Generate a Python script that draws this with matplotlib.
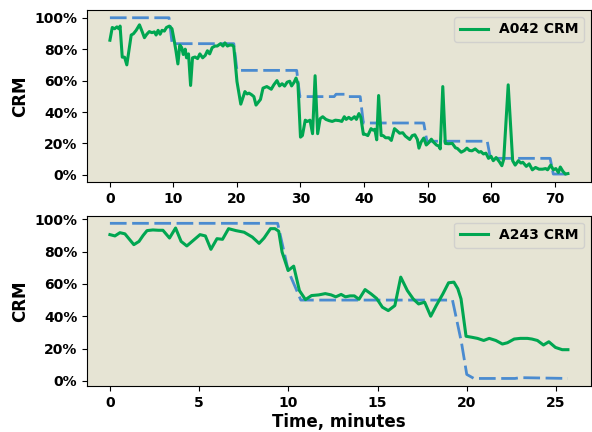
import matplotlib
matplotlib.use('Agg')
import matplotlib.pyplot as plt
from matplotlib.ticker import PercentFormatter

# A042 - top panel
a042_t = [0.0, 0.37, 0.74, 1.1, 1.4, 1.6, 1.94, 2.3, 2.66, 2.98, 3.35, 3.7, 4.13, 4.65, 5.07, 5.43, 5.8, 6.2,
          6.6, 7.0, 7.27, 7.58, 7.9, 8.2, 8.57, 8.9, 9.35, 9.77, 10.13, 10.4, 10.7, 11.0, 11.3, 11.55, 11.85,
          12.06, 12.37, 12.7, 13.0, 13.4, 13.8, 14.16, 14.6, 15.0, 15.35, 15.7, 16.1, 16.55, 16.9, 17.4, 17.8,
          18.1, 18.5, 18.85, 19.26, 19.5, 20.0, 20.6, 21.25, 21.6, 21.9, 22.3, 22.66, 23.0, 23.7, 24.1, 24.7,
          25.4, 25.8, 26.3, 26.7, 27.1, 27.5, 27.9, 28.3, 28.6, 29.0, 29.3, 29.6, 30.0, 30.3, 30.75, 31.1,
          31.5, 31.9, 32.3, 32.7, 33.1, 33.5, 34.0, 34.5, 35.0, 35.5, 36.1, 36.5, 36.9, 37.2, 37.6, 38.0,
          38.5, 38.8, 39.2, 39.5, 39.9, 40.2, 40.6, 41.1, 41.4, 41.7, 42.0, 42.3, 42.7, 43.0, 43.4, 43.9,
          44.3, 44.8, 45.2, 45.6, 46.1, 46.5, 47.2, 47.6, 48.0, 48.4, 48.65, 49.0, 49.4, 49.8, 50.2, 50.6,
          50.9, 51.4, 51.8, 52.0, 52.4, 52.8, 53.3, 53.9, 54.4, 54.7, 55.3, 55.8, 56.2, 56.6, 57.0, 57.5,
          58.1, 58.4, 58.8, 59.2, 59.6, 60.0, 60.35, 60.8, 61.3, 61.7, 62.0, 62.7, 63.4, 63.8, 64.3, 64.7,
          65.0, 65.55, 66.0, 66.5, 67.0, 67.55, 68.1, 68.6, 68.9, 69.4, 69.8, 70.2, 70.6, 70.9, 71.3, 71.7,
          72.1]
a042_crm = [0.857, 0.938, 0.93, 0.942, 0.93, 0.947, 0.749, 0.749, 0.70, 0.788, 0.89, 0.898, 0.92, 0.955,
            0.912, 0.873, 0.895, 0.912, 0.905, 0.91, 0.89, 0.92, 0.895, 0.92, 0.915, 0.938, 0.947, 0.93,
            0.852, 0.788, 0.706, 0.826, 0.81, 0.766, 0.80, 0.745, 0.77, 0.569, 0.745, 0.75, 0.74, 0.77,
            0.745, 0.76, 0.79, 0.77, 0.81, 0.82, 0.82, 0.835, 0.82, 0.84, 0.82, 0.826, 0.826, 0.815, 0.594,
            0.45, 0.53, 0.515, 0.52, 0.51, 0.498, 0.444, 0.48, 0.552, 0.562, 0.545, 0.573, 0.60, 0.566, 0.58,
            0.565, 0.59, 0.596, 0.566, 0.59, 0.616, 0.58, 0.24, 0.25, 0.348, 0.34, 0.348, 0.262, 0.631,
            0.262, 0.358, 0.37, 0.353, 0.345, 0.34, 0.348, 0.345, 0.34, 0.37, 0.353, 0.366, 0.353, 0.37,
            0.353, 0.39, 0.366, 0.258, 0.258, 0.25, 0.294, 0.285, 0.29, 0.223, 0.505, 0.25, 0.25, 0.236,
            0.236, 0.219, 0.294, 0.28, 0.265, 0.268, 0.247, 0.225, 0.25, 0.255, 0.225, 0.17, 0.21, 0.234,
            0.19, 0.205, 0.227, 0.21, 0.19, 0.182, 0.165, 0.562, 0.2, 0.198, 0.2, 0.172, 0.168, 0.144,
            0.155, 0.17, 0.155, 0.153, 0.165, 0.144, 0.148, 0.133, 0.138, 0.105, 0.118, 0.09, 0.11, 0.084,
            0.058, 0.1, 0.573, 0.09, 0.062, 0.09, 0.075, 0.08, 0.054, 0.07, 0.032, 0.047, 0.036, 0.036,
            0.04, 0.032, 0.062, 0.032, 0.04, 0.015, 0.05, 0.023, 0.005, 0.008]
a042_ref_t = [0, 9.3, 9.8, 19.5, 20.0, 29.4, 29.9, 35.3, 35.6, 37.3, 37.6, 39.4, 39.9, 49.4, 49.9,
              59.4, 59.9, 69.3, 69.8, 72.1]
a042_ref = [1.0, 1.0, 0.835, 0.835, 0.665, 0.665, 0.498, 0.498, 0.513, 0.513, 0.498, 0.498, 0.33, 0.33,
            0.214, 0.214, 0.105, 0.105, 0.005, 0.005]

# A243 - bottom panel
a243_t = [0.0, 0.28, 0.56, 0.84, 1.34, 1.63, 1.86, 2.08, 2.41, 2.72, 2.97, 3.34, 3.68, 3.99, 4.31, 4.68,
          5.05, 5.35, 5.66, 6.0, 6.31, 6.65, 7.06, 7.52, 7.98, 8.36, 8.64, 9.0, 9.25, 9.46, 9.65, 9.99,
          10.3, 10.62, 10.96, 11.3, 11.7, 12.07, 12.4, 12.66, 12.96, 13.2, 13.46, 13.7, 13.96, 14.3, 14.64,
          14.95, 15.27, 15.6, 15.97, 16.3, 16.67, 17.0, 17.3, 17.64, 17.98, 18.29, 18.66, 18.98, 19.28,
          19.5, 19.68, 19.96, 20.28, 20.6, 20.95, 21.26, 21.63, 22.0, 22.28, 22.66, 23.0, 23.4, 23.65,
          23.96, 24.3, 24.6, 24.97, 25.35, 25.67]
a243_crm = [0.905, 0.897, 0.917, 0.91, 0.843, 0.863, 0.9, 0.93, 0.934, 0.932, 0.932, 0.884, 0.946, 0.863,
            0.835, 0.87, 0.905, 0.897, 0.814, 0.88, 0.876, 0.942, 0.93, 0.92, 0.89, 0.851, 0.884, 0.942,
            0.942, 0.926, 0.797, 0.683, 0.71, 0.559, 0.503, 0.528, 0.532, 0.54, 0.532, 0.52, 0.535, 0.52,
            0.526, 0.526, 0.505, 0.565, 0.538, 0.51, 0.456, 0.435, 0.466, 0.642, 0.559, 0.507, 0.476,
            0.487, 0.4, 0.466, 0.538, 0.607, 0.611, 0.57, 0.507, 0.276, 0.27, 0.263, 0.25, 0.263, 0.25,
            0.228, 0.236, 0.259, 0.263, 0.263, 0.259, 0.25, 0.222, 0.242, 0.207, 0.193, 0.193]
a243_ref_t = [0, 9.4, 10.0, 10.7, 19.2, 19.7, 20.0, 20.4, 22.7, 23.0, 25.67]
a243_ref = [0.975, 0.975, 0.68, 0.50, 0.50, 0.24, 0.04, 0.015, 0.015, 0.02, 0.015]

green = '#00a651'
blue = '#4a8bd0'
bg = '#e6e4d4'

plt.rcParams['font.weight'] = 'bold'
plt.rcParams['axes.labelweight'] = 'bold'

fig = plt.figure(figsize=(5.92, 4.32), dpi=100)
ax1 = fig.add_axes([0.147, 0.579, 0.851, 0.398])
ax2 = fig.add_axes([0.147, 0.106, 0.851, 0.395])

panels = [(ax1, a042_t, a042_crm, a042_ref_t, a042_ref, 'A042 CRM', [0, 10, 20, 30, 40, 50, 60, 70]),
          (ax2, a243_t, a243_crm, a243_ref_t, a243_ref, 'A243 CRM', [0, 5, 10, 15, 20, 25])]
for ax, t, crm, rt, ref, name, xt in panels:
    ax.set_facecolor(bg)
    ax.plot(rt, ref, color=blue, lw=2, dashes=(6, 2))
    ax.plot(t, crm, color=green, lw=2.2, label=name)
    ax.set_yticks([0, 0.2, 0.4, 0.6, 0.8, 1.0])
    ax.yaxis.set_major_formatter(PercentFormatter(xmax=1, decimals=0))
    ax.set_xticks(xt)
    ax.tick_params(labelsize=10)
    ax.set_ylabel('CRM', fontsize=12, fontweight='bold')
    ax.legend(loc='upper right', prop={'weight': 'bold', 'size': 10}, facecolor=bg, framealpha=0.8)

ax2.set_xlabel('Time, minutes', fontsize=12, fontweight='bold', labelpad=2)

plt.savefig('out.png', dpi=100)
